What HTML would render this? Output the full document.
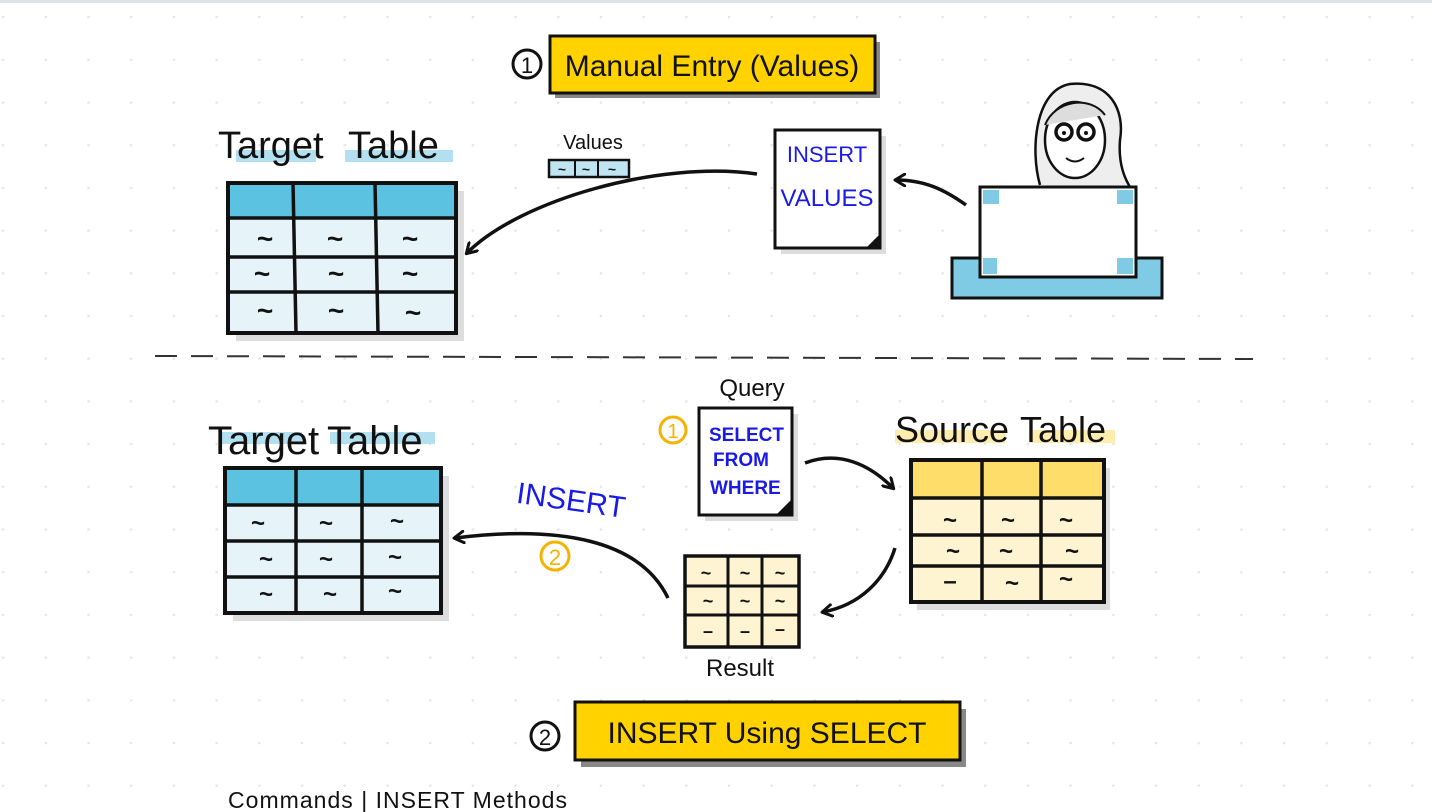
<!DOCTYPE html>
<html><head><meta charset="utf-8"><style>
html,body{margin:0;padding:0;background:#fff;}
svg{display:block;}
text{font-family:"Liberation Sans","DejaVu Sans",sans-serif;}
.t{font-weight:bold;}
</style></head><body>
<svg width="1432" height="812" viewBox="0 0 1432 812" xmlns="http://www.w3.org/2000/svg">
<defs>
<pattern id="dots" x="2" y="16" width="42.7" height="42.7" patternUnits="userSpaceOnUse">
<circle cx="0.5" cy="0.5" r="2" fill="#e6e6e6"/>
</pattern>
<marker id="ah" markerWidth="14" markerHeight="14" refX="10" refY="7" orient="auto" markerUnits="userSpaceOnUse">
<path d="M1,1 L11,7 L1,13" fill="none" stroke="#111" stroke-width="3" stroke-linecap="round" stroke-linejoin="round"/>
</marker>
</defs>
<rect width="1432" height="812" fill="#fff"/>
<rect width="1432" height="812" fill="url(#dots)"/>
<rect x="0" y="0" width="1432" height="3" fill="#dde3ea"/>

<!-- Top banner -->
<circle cx="527" cy="64" r="14" fill="none" stroke="#111" stroke-width="3"/>
<text x="527" y="73" font-size="22" text-anchor="middle" fill="#111">1</text>
<rect x="555" y="42" width="325" height="56" fill="#555" opacity="0.7"/>
<rect x="550" y="36" width="325" height="57" fill="#ffd200" stroke="#111" stroke-width="3"/>
<text x="712" y="76" font-size="30" text-anchor="middle" fill="#111">Manual Entry (Values)</text>

<!-- Target table 1 -->
<rect x="236" y="150" width="80" height="12" fill="#9fd8ec" opacity="0.8"/>
<rect x="345" y="150" width="108" height="12" fill="#9fd8ec" opacity="0.8"/>
<text x="218" y="158" font-size="38" fill="#111">Target</text>
<text x="348" y="158" font-size="38" fill="#111">Table</text>
<rect x="236" y="191" width="228" height="150" fill="#ddd"/>
<rect x="228" y="183" width="228" height="150" fill="#e6f4fa" stroke="#111" stroke-width="4"/>
<rect x="230" y="185" width="224" height="33" fill="#5cc2e2"/>
<g stroke="#111" stroke-width="3.5">
<line x1="228" y1="218" x2="456" y2="218"/><line x1="228" y1="257" x2="456" y2="257"/><line x1="228" y1="292" x2="456" y2="292"/>
<line x1="293" y1="183" x2="296" y2="333"/><line x1="375" y1="183" x2="378" y2="333"/>
</g>
<g class="t" font-size="28" fill="#111" text-anchor="middle">
<text x="265" y="248">~</text><text x="335" y="248">~</text><text x="410" y="248">~</text>
<text x="262" y="283">~</text><text x="336" y="283">~</text><text x="410" y="283">~</text>
<text x="265" y="320">~</text><text x="336" y="320">~</text><text x="413" y="322">~</text>
</g>

<!-- Values strip -->
<text x="593" y="149" font-size="20" text-anchor="middle" fill="#111">Values</text>
<rect x="549" y="160" width="80" height="17" fill="#bfe5f2" stroke="#111" stroke-width="2.5"/>
<line x1="575" y1="160" x2="575" y2="177" stroke="#111" stroke-width="2"/>
<line x1="598" y1="160" x2="598" y2="177" stroke="#111" stroke-width="2"/>
<g class="t" font-size="14" fill="#111" text-anchor="middle"><text x="562" y="174">~</text><text x="586" y="174">~</text><text x="612" y="174">~</text></g>

<path d="M757,174 C660,160 520,200 467,253" fill="none" stroke="#111" stroke-width="3.5" marker-end="url(#ah)"/>

<!-- INSERT VALUES doc -->
<rect x="781" y="136" width="105" height="118" fill="#ddd"/>
<rect x="775" y="130" width="105" height="118" fill="#fff" stroke="#111" stroke-width="3"/>
<path d="M866,248 L880,234 L880,248 Z" fill="#111"/>
<text x="827" y="162" font-size="22" text-anchor="middle" fill="#1a1ae6">INSERT</text>
<text x="827" y="206" font-size="24" text-anchor="middle" fill="#1a1ae6">VALUES</text>

<path d="M966,205 C945,190 925,180 896,180" fill="none" stroke="#111" stroke-width="3.5" marker-end="url(#ah)"/>

<!-- Person -->
<path d="M1040,185 C1030,150 1035,90 1070,84 C1110,80 1125,110 1120,140 C1118,165 1125,180 1132,190" fill="#eee" stroke="#111" stroke-width="2.5"/>
<ellipse cx="1075" cy="140" rx="30" ry="38" fill="#fff" stroke="#111" stroke-width="2.5"/>
<path d="M1045,125 C1055,100 1090,95 1105,115" fill="#ddd" stroke="#111" stroke-width="2"/>
<circle cx="1064" cy="132" r="8" fill="#fff" stroke="#111" stroke-width="3.5"/>
<circle cx="1086" cy="132" r="8" fill="#fff" stroke="#111" stroke-width="3.5"/>
<circle cx="1064" cy="133" r="2" fill="#111"/><circle cx="1086" cy="133" r="2" fill="#111"/>
<path d="M1066,158 Q1075,165 1084,158" fill="none" stroke="#111" stroke-width="2"/>
<rect x="952" y="258" width="210" height="40" fill="#7fcbe6" stroke="#111" stroke-width="3"/>
<rect x="980" y="187" width="156" height="90" fill="#fff" stroke="#111" stroke-width="3"/>
<g fill="#7fcbe6"><rect x="983" y="190" width="16" height="14"/><rect x="1117" y="190" width="16" height="14"/><rect x="983" y="258" width="14" height="16"/><rect x="1117" y="258" width="16" height="16"/></g>

<line x1="155" y1="356" x2="1253" y2="359" stroke="#333" stroke-width="2" stroke-dasharray="22,14"/>

<!-- Target table 2 -->
<rect x="222" y="432" width="80" height="12" fill="#9fd8ec" opacity="0.8"/>
<rect x="330" y="432" width="105" height="12" fill="#9fd8ec" opacity="0.8"/>
<text x="208" y="454" font-size="40" fill="#111">Target</text>
<text x="327" y="454" font-size="40" fill="#111">Table</text>
<rect x="233" y="476" width="216" height="145" fill="#ddd"/>
<rect x="225" y="468" width="216" height="145" fill="#e6f4fa" stroke="#111" stroke-width="4"/>
<rect x="227" y="470" width="212" height="35" fill="#5cc2e2"/>
<g stroke="#111" stroke-width="3.5">
<line x1="225" y1="505" x2="441" y2="505"/><line x1="225" y1="541" x2="441" y2="541"/><line x1="225" y1="577" x2="441" y2="577"/>
<line x1="296" y1="468" x2="296" y2="613"/><line x1="362" y1="468" x2="362" y2="613"/>
</g>
<g class="t" font-size="24" fill="#111" text-anchor="middle">
<text x="258" y="531">~</text><text x="326" y="531">~</text><text x="397" y="529">~</text>
<text x="266" y="567">~</text><text x="326" y="567">~</text><text x="395" y="565">~</text>
<text x="266" y="602">~</text><text x="330" y="602">~</text><text x="395" y="599">~</text>
</g>

<text x="515" y="511" font-size="30" fill="#1a1ae6" transform="rotate(8 575 510)">INSERT</text>
<circle cx="555" cy="556" r="14" fill="none" stroke="#f5b300" stroke-width="3"/>
<text x="555" y="565" font-size="22" text-anchor="middle" fill="#f5b300">2</text>
<path d="M668,598 C640,540 560,525 455,538" fill="none" stroke="#111" stroke-width="3.5" marker-end="url(#ah)"/>

<!-- Query doc -->
<text x="752" y="396" font-size="24" text-anchor="middle" fill="#111">Query</text>
<circle cx="673" cy="430" r="13" fill="none" stroke="#f5b300" stroke-width="3"/>
<text x="673" y="438" font-size="20" text-anchor="middle" fill="#f5b300">1</text>
<rect x="705" y="414" width="93" height="107" fill="#ddd"/>
<rect x="699" y="408" width="93" height="107" fill="#fff" stroke="#111" stroke-width="3"/>
<path d="M776,515 L792,499 L792,515 Z" fill="#111"/>
<g font-size="19" fill="#1a1ae6" font-weight="bold"><text x="709" y="441">SELECT</text><text x="713" y="466">FROM</text><text x="710" y="494">WHERE</text></g>

<path d="M805,463 C840,450 870,465 893,488" fill="none" stroke="#111" stroke-width="3.5" marker-end="url(#ah)"/>

<!-- Source table -->
<rect x="895" y="430" width="110" height="13" fill="#ffe58a" opacity="0.7"/>
<rect x="1030" y="430" width="85" height="13" fill="#ffe58a" opacity="0.7"/>
<text x="895" y="442" font-size="36" fill="#111">Source</text>
<text x="1020" y="442" font-size="36" fill="#111">Table</text>
<rect x="917" y="468" width="193" height="142" fill="#ddd"/>
<rect x="911" y="460" width="193" height="142" fill="#fff4d2" stroke="#111" stroke-width="4"/>
<rect x="913" y="462" width="189" height="36" fill="#ffdd6b"/>
<g stroke="#111" stroke-width="3.5">
<line x1="911" y1="498" x2="1104" y2="498"/><line x1="911" y1="535" x2="1104" y2="535"/><line x1="911" y1="566" x2="1104" y2="566"/>
<line x1="982" y1="460" x2="982" y2="602"/><line x1="1041" y1="460" x2="1041" y2="602"/>
</g>
<g class="t" font-size="24" fill="#111" text-anchor="middle">
<text x="950" y="528">~</text><text x="1008" y="528">~</text><text x="1066" y="528">~</text>
<text x="953" y="559">~</text><text x="1006" y="559">~</text><text x="1072" y="559">~</text>
<text x="950" y="589">–</text><text x="1012" y="591">~</text><text x="1066" y="587">~</text>
</g>

<path d="M895,548 C885,580 860,605 823,612" fill="none" stroke="#111" stroke-width="3.5" marker-end="url(#ah)"/>

<!-- Result table -->
<rect x="685" y="556" width="114" height="91" fill="#fff4d2" stroke="#111" stroke-width="3.5"/>
<g stroke="#111" stroke-width="3">
<line x1="685" y1="586" x2="799" y2="586"/><line x1="685" y1="615" x2="799" y2="615"/>
<line x1="728" y1="556" x2="728" y2="647"/><line x1="762" y1="556" x2="762" y2="647"/>
</g>
<g class="t" font-size="18" fill="#111" text-anchor="middle">
<text x="706" y="579">~</text><text x="745" y="579">~</text><text x="780" y="579">~</text>
<text x="708" y="607">~</text><text x="745" y="607">~</text><text x="780" y="607">~</text>
<text x="708" y="637">–</text><text x="745" y="637">–</text><text x="780" y="635">–</text>
</g>
<text x="740" y="676" font-size="24" text-anchor="middle" fill="#111">Result</text>

<!-- Bottom banner -->
<circle cx="545" cy="736" r="14" fill="none" stroke="#111" stroke-width="3"/>
<text x="545" y="745" font-size="22" text-anchor="middle" fill="#111">2</text>
<rect x="581" y="709" width="385" height="58" fill="#555" opacity="0.7"/>
<rect x="575" y="702" width="385" height="58" fill="#ffd200" stroke="#111" stroke-width="3"/>
<text x="767" y="743" font-size="30" text-anchor="middle" fill="#111">INSERT  Using  SELECT</text>

<text x="228" y="808" font-size="23" letter-spacing="1" fill="#111" textLength="340" lengthAdjust="spacing">Commands  | INSERT Methods</text>
</svg>
</body></html>
